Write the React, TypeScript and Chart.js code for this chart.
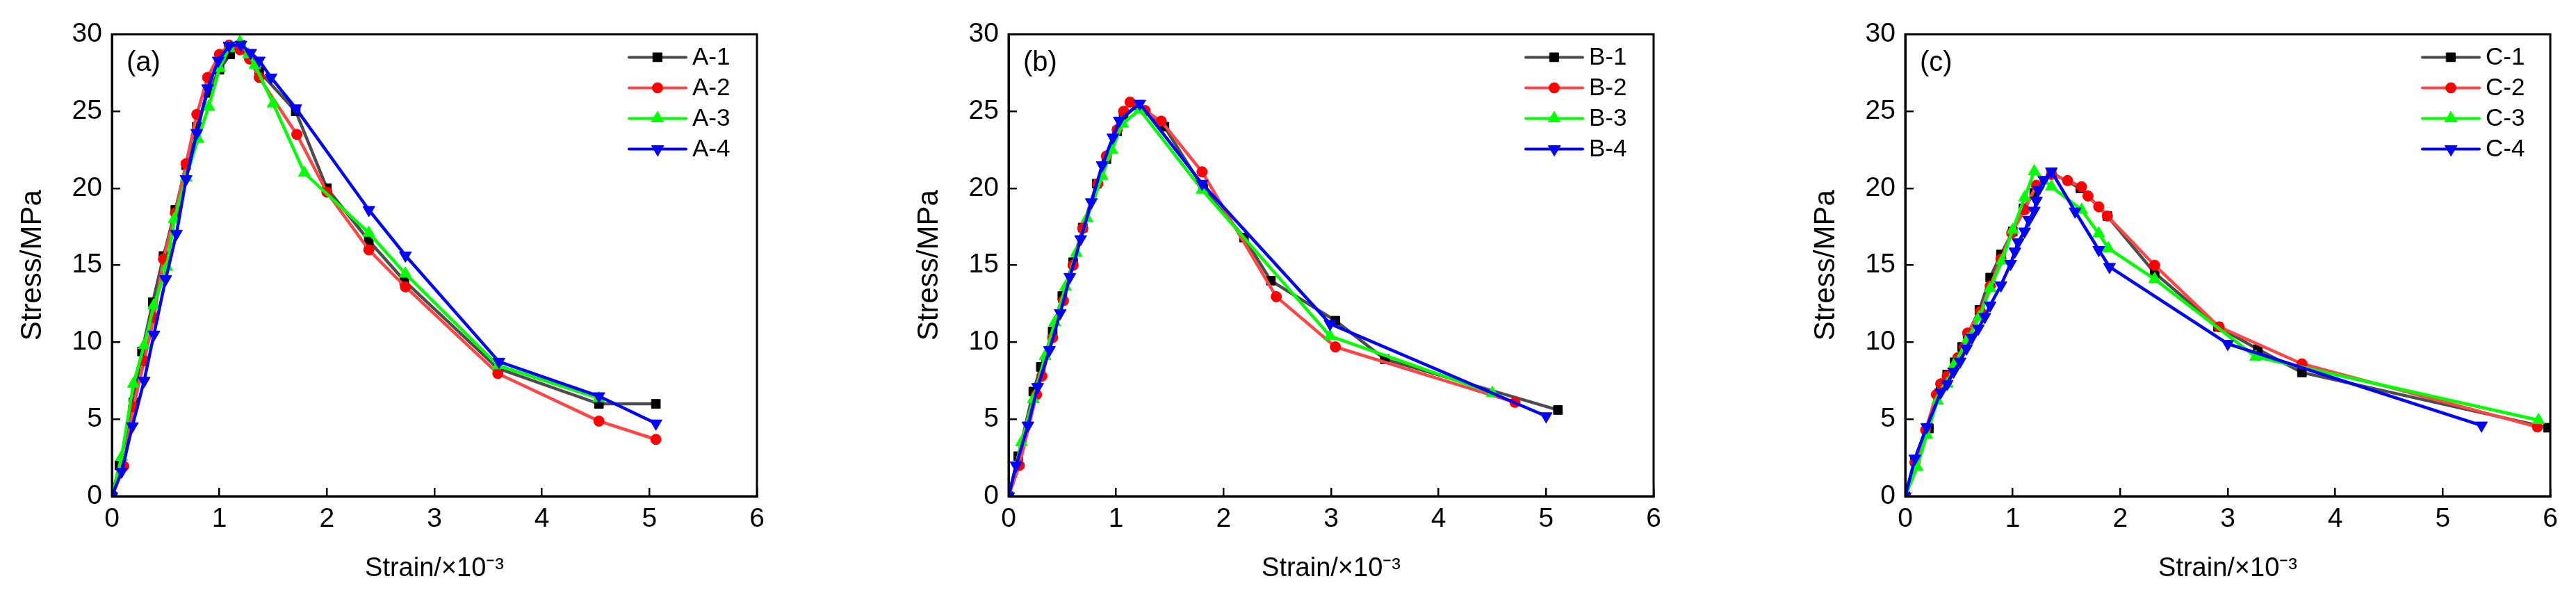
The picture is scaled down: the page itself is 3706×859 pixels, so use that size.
import { useEffect, useRef } from "react";
import { Chart, registerables } from "chart.js";
import { drawPoint } from "chart.js/helpers";

Chart.register(...registerables);

// ---- data (strain ×10^-3, stress MPa) ----
const a1Strain = [0, 0.07, 0.2, 0.28, 0.38, 0.48, 0.59, 0.69, 0.79, 0.89, 1.0, 1.1, 1.2, 1.37, 1.71, 2.0, 2.39, 2.72, 3.59, 4.53, 5.06];
const a1Stress = [0, 2.0, 6.1, 9.4, 12.6, 15.6, 18.6, 21.5, 24.0, 26.2, 27.7, 28.7, 29.3, 27.6, 25.0, 20.0, 16.6, 14.0, 8.3, 6.0, 6.0];
const a2Strain = [0, 0.11, 0.2, 0.3, 0.39, 0.48, 0.59, 0.69, 0.79, 0.89, 1.0, 1.09, 1.19, 1.28, 1.37, 1.72, 2.0, 2.39, 2.73, 3.59, 4.53, 5.06];
const a2Stress = [0, 1.95, 5.8, 8.8, 11.6, 15.4, 18.4, 21.6, 24.8, 27.2, 28.7, 29.3, 29.0, 28.4, 27.2, 23.5, 19.75, 16.0, 13.6, 7.97, 4.88, 3.69];
const a3Strain = [0, 0.09, 0.2, 0.3, 0.39, 0.51, 0.58, 0.69, 0.8, 0.9, 1.0, 1.09, 1.19, 1.27, 1.33, 1.5, 1.79, 2.39, 2.73, 3.59, 4.53];
const a3Stress = [0, 2.55, 7.3, 9.8, 12.4, 14.9, 18.0, 20.7, 23.2, 25.3, 27.8, 29.1, 29.5, 28.7, 28.0, 25.5, 21.0, 17.1, 14.45, 8.5, 6.36];
const a4Strain = [0, 0.09, 0.19, 0.3, 0.39, 0.5, 0.6, 0.69, 0.79, 0.89, 0.99, 1.09, 1.2, 1.29, 1.37, 1.48, 1.71, 2.39, 2.73, 3.6, 4.53, 5.06];
const a4Stress = [0, 1.6, 4.55, 7.5, 10.5, 14.1, 17.05, 20.6, 23.6, 26.5, 28.3, 29.26, 29.33, 28.8, 28.3, 27.2, 25.2, 18.6, 15.64, 8.74, 6.5, 4.73];

const b1Strain = [0, 0.09, 0.23, 0.3, 0.41, 0.5, 0.6, 0.69, 0.82, 0.91, 1.01, 1.07, 1.2, 1.45, 1.81, 2.19, 2.44, 3.04, 3.5, 5.11];
const b1Stress = [0, 2.6, 6.8, 8.4, 10.7, 13.0, 15.2, 17.45, 20.3, 21.9, 23.7, 24.7, 25.4, 24.0, 20.0, 16.8, 14.0, 11.4, 8.9, 5.6];
const b2Strain = [0, 0.1, 0.26, 0.31, 0.41, 0.51, 0.6, 0.69, 0.83, 0.91, 1.01, 1.07, 1.13, 1.27, 1.42, 1.8, 2.49, 3.04, 4.71];
const b2Stress = [0, 2.0, 6.6, 7.8, 10.3, 12.7, 15.0, 17.4, 20.3, 22.1, 23.8, 25.0, 25.6, 25.05, 24.36, 21.07, 12.96, 9.7, 6.1];
const b3Strain = [0, 0.12, 0.23, 0.34, 0.43, 0.53, 0.63, 0.73, 0.87, 0.96, 1.06, 1.22, 1.8, 2.99, 4.5];
const b3Stress = [0, 3.5, 6.3, 9.1, 11.3, 13.6, 15.8, 18.05, 20.8, 22.5, 24.2, 25.1, 19.9, 10.4, 6.7];
const b4Strain = [0, 0.07, 0.18, 0.27, 0.38, 0.48, 0.57, 0.67, 0.77, 0.87, 0.97, 1.03, 1.22, 1.8, 2.99, 5.0];
const b4Stress = [0, 2.0, 4.6, 7.1, 9.5, 11.9, 14.25, 16.7, 19.1, 21.5, 23.3, 24.4, 25.5, 20.3, 11.2, 5.2];

const c1Strain = [0, 0.09, 0.22, 0.33, 0.39, 0.46, 0.53, 0.58, 0.69, 0.79, 0.89, 1.0, 1.1, 1.2, 1.36, 1.63, 1.88, 2.32, 2.91, 3.28, 3.69, 5.98];
const c1Stress = [0, 2.3, 4.4, 7.2, 7.9, 8.7, 9.7, 10.5, 12.1, 14.2, 15.7, 17.2, 18.7, 19.7, 21.0, 20.0, 18.2, 14.5, 11.0, 9.55, 8.04, 4.45];
const c2Strain = [0, 0.09, 0.19, 0.29, 0.33, 0.39, 0.49, 0.55, 0.58, 0.7, 0.79, 0.89, 0.99, 1.11, 1.22, 1.36, 1.51, 1.64, 1.7, 1.8, 1.88, 2.32, 2.92, 3.69, 5.88];
const c2Stress = [0, 2.2, 4.3, 6.6, 7.3, 7.8, 9.0, 9.7, 10.6, 12.0, 13.65, 15.4, 17.1, 18.6, 20.2, 20.9, 20.5, 20.1, 19.5, 18.8, 18.2, 15.0, 11.0, 8.6, 4.5];
const c3Strain = [0, 0.11, 0.2, 0.3, 0.39, 0.46, 0.58, 0.69, 0.79, 0.9, 1.0, 1.11, 1.2, 1.36, 1.64, 1.8, 1.89, 2.32, 3.26, 5.89];
const c3Stress = [0, 1.9, 4.0, 6.2, 7.3, 8.6, 10.2, 11.65, 13.5, 15.3, 17.3, 19.4, 21.1, 20.1, 18.6, 17.06, 16.1, 14.1, 9.06, 4.94];
const c4Strain = [0, 0.09, 0.2, 0.33, 0.39, 0.45, 0.51, 0.57, 0.62, 0.68, 0.74, 0.79, 0.89, 0.98, 1.02, 1.05, 1.11, 1.15, 1.2, 1.22, 1.24, 1.29, 1.36, 1.58, 1.8, 1.9, 3.0, 5.36];
const c4Stress = [0, 2.45, 4.5, 6.75, 7.3, 8.1, 8.75, 9.6, 10.3, 10.9, 11.65, 12.4, 13.7, 15.1, 15.9, 16.5, 17.2, 17.95, 18.55, 19.2, 19.9, 20.55, 21.1, 18.5, 16.0, 14.9, 9.9, 4.6];

const xTicksMax = 6;
const yTicksMax = 30;

// ---- styles ----
const FONT = "'Liberation Sans', Arial, Helvetica, sans-serif";
const lineColors = ["#4d4d4d", "#ff4545", "#00ff00", "#0000ff"];
const markColors = ["#000000", "#ff0000", "#00ff00", "#0000ff"];
const markStyles = ["rect", "circle", "triangle", "triangle"];
const markRotation = [0, 0, 0, 180];
const markRadius = [9, 7.5, 10, 10];

type Series = { label: string; strain: number[]; stress: number[] };

const framePlugin = {
  id: "frame",
  afterDraw(chart: any) {
    const { ctx, chartArea } = chart;
    ctx.save();
    ctx.strokeStyle = "#000";
    ctx.lineWidth = 3;
    ctx.strokeRect(chartArea.left, chartArea.top, chartArea.right - chartArea.left, chartArea.bottom - chartArea.top);
    ctx.restore();
  },
};

function makeLegendPlugin(tag: string) {
  return {
    id: "lineLegend",
    afterDraw(chart: any) {
      const { ctx, chartArea } = chart;
      const left = chartArea.left;
      const top = chartArea.top;
      ctx.save();
      // panel tag
      ctx.fillStyle = "#000";
      ctx.font = `40px ${FONT}`;
      ctx.textAlign = "left";
      ctx.textBaseline = "alphabetic";
      ctx.fillText(tag, left + 21, top + 53);

      chart.data.datasets.forEach((ds: any, i: number) => {
        const y = top + 33 + i * 44;
        ctx.strokeStyle = ds.borderColor;
        ctx.lineWidth = 4;
        ctx.lineCap = "round";
        ctx.beginPath();
        ctx.moveTo(left + 744, y);
        ctx.lineTo(left + 826, y);
        ctx.stroke();
        ctx.fillStyle = ds.pointBackgroundColor;
        ctx.strokeStyle = ds.pointBorderColor;
        ctx.lineWidth = 1;
        drawPoint(
          ctx,
          { pointStyle: ds.pointStyle, rotation: ds.pointRotation, radius: ds.pointRadius, borderWidth: 1 },
          left + 785,
          y
        );
        ctx.fillStyle = "#000";
        ctx.font = `35px ${FONT}`;
        ctx.textBaseline = "middle";
        ctx.fillText(ds.label, left + 835, y + 1);
      });
      ctx.restore();
    },
  };
}

function Panel(props: { tag: string; series: Series[]; left: number }) {
  const canvasRef = useRef<HTMLCanvasElement | null>(null);

  useEffect(() => {
    if (!canvasRef.current) return;

    const datasets = props.series.map((s, i) => ({
      label: s.label,
      data: s.strain.map((x, k) => ({ x, y: s.stress[k] })),
      borderColor: lineColors[i],
      borderWidth: 4.5,
      pointBackgroundColor: markColors[i],
      pointBorderColor: markColors[i],
      pointBorderWidth: 1,
      pointStyle: markStyles[i],
      pointRotation: markRotation[i],
      pointRadius: markRadius[i],
      tension: 0,
      order: 4 - i,
    }));

    const chart = new Chart(canvasRef.current, {
      type: "line",
      data: { datasets },
      options: {
        animation: false,
        responsive: true,
        maintainAspectRatio: false,
        devicePixelRatio: 1,
        layout: { padding: { left: 0, top: 42, right: 37, bottom: 0 } },
        plugins: { legend: { display: false }, tooltip: { enabled: false } },
        scales: {
          x: {
            type: "linear",
            min: 0,
            max: xTicksMax,
            ticks: { stepSize: 1, color: "#000", font: { family: FONT, size: 39 }, padding: 22, maxRotation: 0 },
            grid: { drawOnChartArea: false, drawTicks: true, tickLength: -12, color: "#000", lineWidth: 2.5 },
            border: { display: true, color: "#000", width: 3 },
            title: {
              display: true,
              text: "Strain/×10⁻³",
              color: "#000",
              font: { family: FONT, size: 38 },
              padding: { top: 0, bottom: 18 },
            },
            afterFit: (s: any) => {
              s.height = 145;
            },
          },
          y: {
            type: "linear",
            min: 0,
            max: yTicksMax,
            ticks: { stepSize: 5, color: "#000", font: { family: FONT, size: 39 }, padding: 26 },
            grid: { drawOnChartArea: false, drawTicks: true, tickLength: -12, color: "#000", lineWidth: 2.5 },
            border: { display: true, color: "#000", width: 3 },
            title: {
              display: true,
              text: "Stress/MPa",
              color: "#000",
              font: { family: FONT, size: 42 },
              padding: { top: 22, bottom: 0 },
            },
            afterFit: (s: any) => {
              s.width = 161;
            },
          },
        },
      } as any,
      plugins: [framePlugin, makeLegendPlugin(props.tag)],
    });

    return () => chart.destroy();
  }, []);

  return (
    <div style={{ position: "absolute", left: props.left, top: 0, width: 1126, height: 859 }}>
      <canvas ref={canvasRef} />
    </div>
  );
}

export default function App() {
  const panelA: Series[] = [
    { label: "A-1", strain: a1Strain, stress: a1Stress },
    { label: "A-2", strain: a2Strain, stress: a2Stress },
    { label: "A-3", strain: a3Strain, stress: a3Stress },
    { label: "A-4", strain: a4Strain, stress: a4Stress },
  ];
  const panelB: Series[] = [
    { label: "B-1", strain: b1Strain, stress: b1Stress },
    { label: "B-2", strain: b2Strain, stress: b2Stress },
    { label: "B-3", strain: b3Strain, stress: b3Stress },
    { label: "B-4", strain: b4Strain, stress: b4Stress },
  ];
  const panelC: Series[] = [
    { label: "C-1", strain: c1Strain, stress: c1Stress },
    { label: "C-2", strain: c2Strain, stress: c2Stress },
    { label: "C-3", strain: c3Strain, stress: c3Stress },
    { label: "C-4", strain: c4Strain, stress: c4Stress },
  ];

  return (
    <div style={{ position: "fixed", left: 0, top: 0, width: 3706, height: 859, background: "#fff", overflow: "hidden" }}>
      <Panel tag="(a)" series={panelA} left={0} />
      <Panel tag="(b)" series={panelB} left={1290} />
      <Panel tag="(c)" series={panelC} left={2580} />
    </div>
  );
}
